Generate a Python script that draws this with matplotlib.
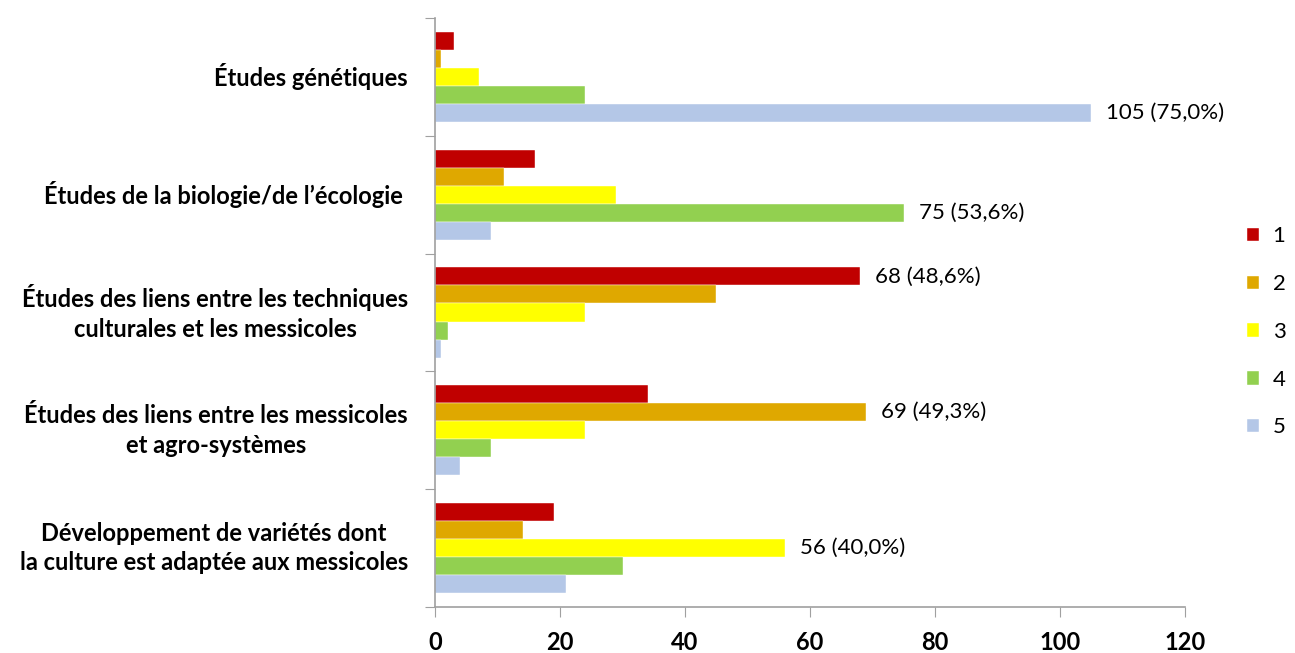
import matplotlib.pyplot as plt
import numpy as np

plt.rcParams['font.family'] = ['Lato', 'DejaVu Sans']

categories = [
    "Études génétiques",
    "Études de la biologie/de l’écologie ",
    "Études des liens entre les techniques\nculturales et les messicoles",
    "Études des liens entre les messicoles\net agro-systèmes",
    "Développement de variétés dont\nla culture est adaptée aux messicoles",
]
series_names = ["1", "2", "3", "4", "5"]
values = [
    [3, 16, 68, 34, 19],    # 1
    [1, 11, 45, 69, 14],    # 2
    [7, 29, 24, 24, 56],    # 3
    [24, 75, 2, 9, 30],     # 4
    [105, 9, 1, 4, 21],     # 5
]
total = 140
colors = ["#c00000", "#dfa800", "#ffff00", "#92d050", "#b4c7e7"]

fig = plt.figure(figsize=(12.95, 6.53), dpi=100)
ax = fig.add_axes([435 / 1295, 1 - 607 / 653, 750 / 1295, 589 / 653])

n = len(categories)
bh = 0.153
centers = np.arange(n)[::-1].astype(float)  # first category on top

for k, (name, vals) in enumerate(zip(series_names, values)):
    y = centers + (2 - k) * bh
    ax.barh(y, vals, height=bh, color=colors[k], label=name,
            edgecolor="white", linewidth=0.3)

# label the biggest bar of each group
for i in range(n):
    group = [values[k][i] for k in range(5)]
    k = int(np.argmax(group))
    v = group[k]
    y = centers[i] + (2 - k) * bh
    pct = f"{v / total * 100:.1f}".replace(".", ",")
    ax.text(v + 2.4, y, f"{v} ({pct}%)", va="center", ha="left", fontsize=16)

ax.set_xlim(0, 120)
ax.set_ylim(-0.5, n - 0.5)
ax.set_xticks(np.arange(0, 121, 20))
ax.tick_params(axis="x", direction="out", length=7, color="#a0a0a0", pad=10,
               labelsize=17)
for lab in ax.get_xticklabels():
    lab.set_fontweight("bold")

# boundaries ticks on y axis, labels at centers
ax.set_yticks(np.arange(-0.5, n, 1.0))
ax.set_yticklabels([])
ax.tick_params(axis="y", direction="out", length=7, color="#a0a0a0")
for i, cat in enumerate(categories):
    ax.text(-4.3, centers[i], cat, ha="right", va="center", multialignment="center",
            fontsize=17, fontweight="bold", linespacing=1.35)

for s in ["top", "right"]:
    ax.spines[s].set_visible(False)
ax.spines["left"].set_color("#a0a0a0")
ax.spines["bottom"].set_color("#a0a0a0")
ax.spines["left"].set_linewidth(1.2)
ax.spines["bottom"].set_linewidth(1.2)

ax.legend(loc="center left", bbox_to_anchor=(1.056, 0.467), frameon=False,
          fontsize=16, handlelength=0.55, handleheight=0.55, labelspacing=1.25,
          handletextpad=0.6)

fig.savefig("out.png", dpi=100)
